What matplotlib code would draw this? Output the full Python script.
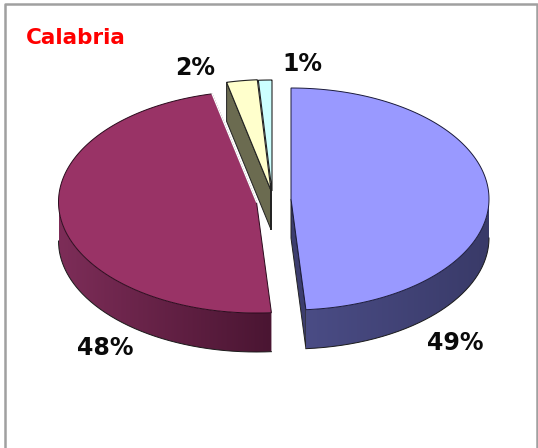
#!/usr/bin/env python3
import numpy as np
import matplotlib
matplotlib.use("Agg")
import matplotlib.pyplot as plt
from matplotlib.colors import to_rgb

title = "Calabria"
# shares, the labels are the rounded ones
values = [48.8, 47.6, 2.5, 1.1]
labels = ["49%", "48%", "2%", "1%"]
top_colors = ["#9999ff", "#993366", "#ffffcc", "#ccffff"]
wall_left = ["#4a4c85", "#7d2d58"]
wall_right = ["#393a68", "#4a1532"]

# layout in pixels of the 538x448 picture
RX, RY, DEPTH = 198, 111, 39
centers = [(291, 199), (256.5, 202), (271, 190.5), (272, 191)]
label_pos = [(455, 343), (105, 348), (195, 68), (302, 64)]


def point(center, deg, dz=0):
    # angle runs clockwise from 12 o'clock
    a = np.radians(deg)
    return center[0] + RX * np.sin(a), center[1] - RY * np.cos(a) + dz


def top_face(center, a0, a1):
    angles = np.linspace(a0, a1, 160)
    xs, ys = point(center, angles)
    return np.column_stack([np.r_[center[0], xs], np.r_[center[1], ys]])


def outer_wall(ax, center, a0, a1, left, right):
    # rim of the slice, shaded from left to right with a clipped gradient
    angles = np.linspace(a0, a1, 200)
    x, y = point(center, angles)
    xb, yb = point(center, angles, DEPTH)
    outline = np.column_stack([np.r_[x, xb[::-1]], np.r_[y, yb[::-1]]])
    shape = plt.Polygon(outline, facecolor="none", edgecolor="none")
    ax.add_patch(shape)
    t = np.linspace(0, 1, 256)[None, :, None]
    grad = np.array(to_rgb(left))[None, None, :] * (1 - t) + np.array(to_rgb(right))[None, None, :] * t
    img = ax.imshow(grad, extent=[outline[:, 0].min(), outline[:, 0].max(), outline[:, 1].max(), outline[:, 1].min()],
                    aspect="auto", interpolation="bilinear", zorder=1)
    img.set_clip_path(shape)
    ax.plot(xb, yb, color="#1a1a1a", lw=0.7, zorder=1.5)


def cut_wall(ax, center, deg, color, zorder):
    px, py = point(center, deg)
    pts = [(px, py), center, (center[0], center[1] + DEPTH), (px, py + DEPTH)]
    ax.fill(*zip(*pts), facecolor=color, edgecolor="#222222", lw=0.7, zorder=zorder)


fig = plt.figure(figsize=(5.38, 4.48), dpi=100)
ax = fig.add_axes([0, 0, 1, 1])
ax.axis("off")

# frame, open at the bottom
ax.plot([5, 5, 537, 537], [448, 4, 4, 448], color="#a0a0a0", lw=1.8)

edges = np.r_[0, np.cumsum(values)] / sum(values) * 360
blue, maroon, yellow, cyan = 0, 1, 2, 3

# small slices first, the big ones cover their lower parts
cut_wall(ax, centers[yellow], edges[yellow], "#6b6b50", 0.5)
for i in (cyan, yellow):
    ax.add_patch(plt.Polygon(top_face(centers[i], edges[i], edges[i + 1]),
                             facecolor=top_colors[i], edgecolor="#222222", lw=0.8, zorder=0.6))
ax.plot([centers[cyan][0] - 1] * 2, [centers[yellow][1] - 6, centers[yellow][1] + DEPTH],
        color="#222222", lw=1.4, zorder=0.7)

# maroon
outer_wall(ax, centers[maroon], 270, edges[maroon], wall_left[maroon], wall_right[maroon])
ax.add_patch(plt.Polygon(top_face(centers[maroon], edges[maroon], edges[maroon + 1]),
                         facecolor=top_colors[maroon], edgecolor="#2a0a1c", lw=0.7, zorder=2))
ax.plot(*zip(centers[maroon], point(centers[maroon], edges[maroon + 1])),
        color="white", lw=1.0, zorder=3)

# blue
cut_wall(ax, centers[blue], edges[blue + 1], "#3c3d6e", 0.8)
outer_wall(ax, centers[blue], edges[blue + 1], 90, wall_left[blue], wall_right[blue])
ax.add_patch(plt.Polygon(top_face(centers[blue], edges[blue], edges[blue + 1]),
                         facecolor=top_colors[blue], edgecolor="#1a1a3a", lw=0.7, zorder=2))

for text, (x, y) in zip(labels, label_pos):
    ax.text(x, y, text, ha="center", va="center", fontsize=17, fontweight="bold", color="#0a0a0a")
ax.text(26, 37.5, title, ha="left", va="center", fontsize=15.5, fontweight="bold", color="#ff0000")

# imshow moves the limits, so they go last
ax.set_xlim(0, 538)
ax.set_ylim(448, 0)

fig.savefig("out.png", dpi=100, facecolor="white")
